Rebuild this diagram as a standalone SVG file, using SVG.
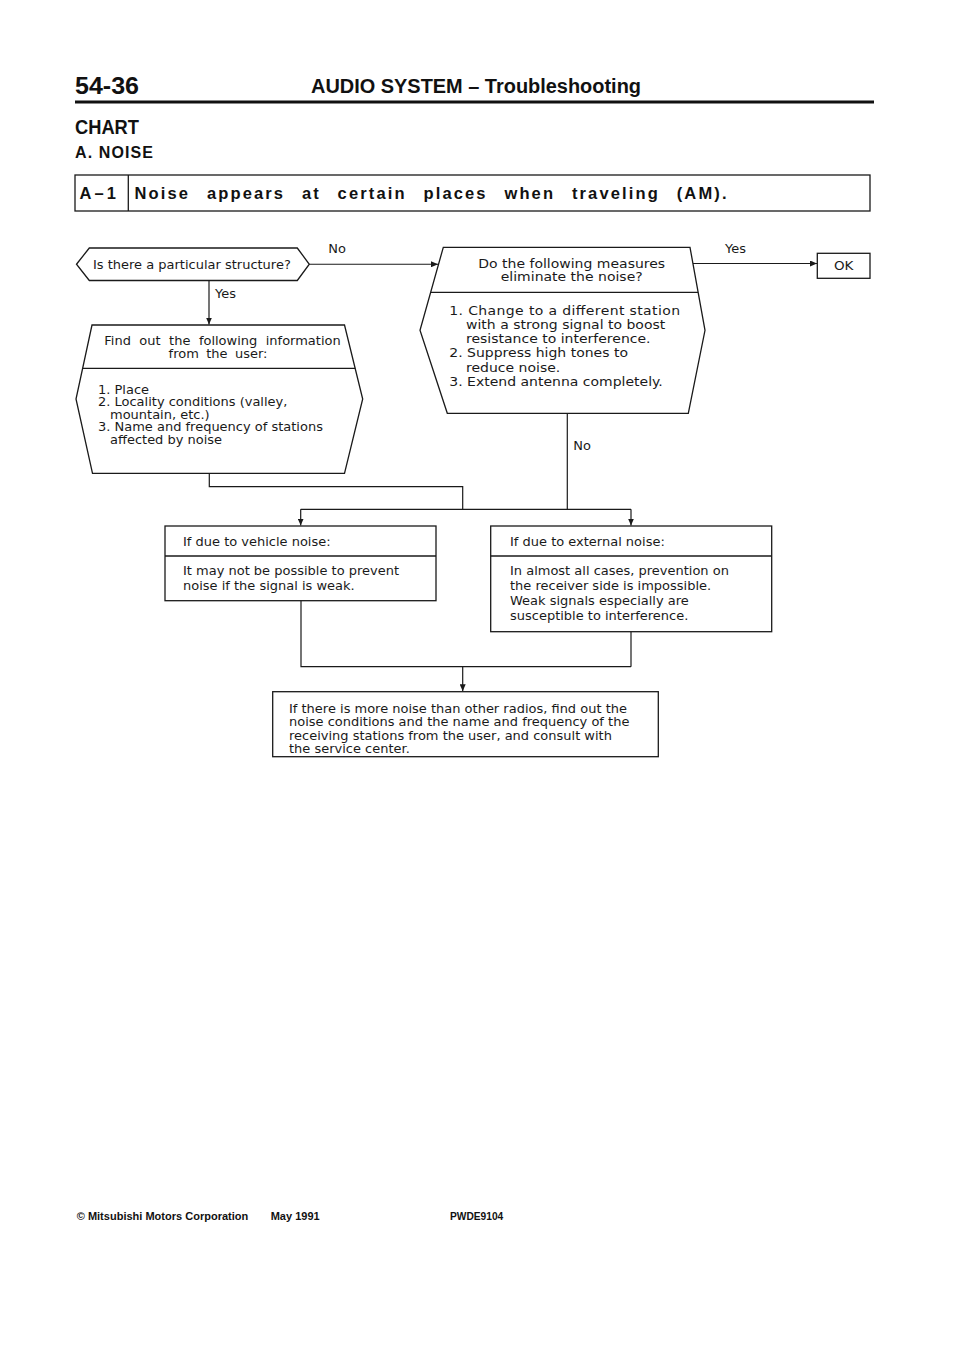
<svg xmlns="http://www.w3.org/2000/svg" width="960" height="1358" viewBox="0 0 960 1358">
<defs>
<marker id="ah" markerWidth="8" markerHeight="6" refX="7" refY="3" orient="auto" markerUnits="userSpaceOnUse"><path d="M0,0 L7,3 L0,6 z" fill="#1a1a1a"/></marker>
<style>
.hd{font-family:"Liberation Sans",Arial,sans-serif;font-weight:bold;fill:#111}
.t{font-family:"DejaVu Sans",sans-serif;font-size:12px;fill:#1a1a1a}
.m{font-family:"DejaVu Sans",sans-serif;font-size:12.5px;fill:#1a1a1a}
.box{fill:none;stroke:#1a1a1a;stroke-width:1.3}
.ln{fill:none;stroke:#1a1a1a;stroke-width:1.2}
.ft{font-family:"Liberation Sans",Arial,sans-serif;font-weight:bold;font-size:11px;fill:#111}
</style>
</defs>
<rect width="960" height="1358" fill="#fff"/>
<g id="header">
<text class="hd" x="75" y="94" font-size="24" textLength="64" lengthAdjust="spacingAndGlyphs">54-36</text>
<text class="hd" x="311" y="93" font-size="19.5" textLength="330" lengthAdjust="spacingAndGlyphs">AUDIO SYSTEM – Troubleshooting</text>
<line x1="75" y1="102" x2="874" y2="102" stroke="#111" stroke-width="3"/>
<text class="hd" x="75" y="133.5" font-size="19.5" textLength="64" lengthAdjust="spacingAndGlyphs">CHART</text>
<text class="hd" x="75" y="157.5" font-size="16" textLength="78">A. NOISE</text>
</g>
<g id="a1">
<rect class="box" x="75" y="175" width="795" height="36"/>
<line class="box" x1="128.3" y1="175" x2="128.3" y2="211"/>
<text class="hd" x="79.5" y="199" font-size="16.5" textLength="36.5">A–1</text>
<text class="hd" x="134.5" y="199" font-size="16.5" word-spacing="10" textLength="592">Noise appears at certain places when traveling (AM).</text>
</g>
<g id="connectors" class="ln">
<path d="M209,280.5 V324.5" marker-end="url(#ah)"/>
<path d="M309.3,264.25 H438" marker-end="url(#ah)"/>
<path d="M693,263.5 H817" marker-end="url(#ah)"/>
<path d="M209.3,473.3 V486.7 H462.7 V509.3"/>
<path d="M567.3,413.3 V509.3"/>
<path d="M300.7,509.3 H631"/>
<path d="M300.7,509.3 V525.5" marker-end="url(#ah)"/>
<path d="M631,509.3 V525.5" marker-end="url(#ah)"/>
<path d="M301,600.7 V666.7 H631"/>
<path d="M631,631.7 V666.7"/>
<path d="M462.7,666.7 V691.2" marker-end="url(#ah)"/>
</g>
<g id="labels">
<text class="t" transform="translate(328.3,252.5) scale(1.083,1)">No</text>
<text class="t" transform="translate(215,297.5) scale(1.083,1)">Yes</text>
<text class="t" transform="translate(725,253) scale(1.083,1)">Yes</text>
<text class="t" transform="translate(573.3,449.5) scale(1.083,1)">No</text>
</g>
<g id="q1">
<polygon class="box" points="76.5,264.25 89.3,248 297.3,248 309.3,264.25 297.3,280.5 89.3,280.5"/>
<text class="t" transform="translate(93,268.8) scale(1.083,1)">Is there a particular structure?</text>
</g>
<g id="findout">
<polygon class="box" points="92,325 344.5,325 362.7,399 344.5,473.3 92.5,473.3 76,399"/>
<line class="box" x1="82.6" y1="368.3" x2="355.2" y2="368.3"/>
<text class="t" transform="translate(104.3,344.5) scale(1.083,1)" word-spacing="4">Find out the following information</text>
<text class="t" transform="translate(218,358) scale(1.083,1)" text-anchor="middle" word-spacing="3">from the user:</text>
<text class="t" transform="translate(98,393.5) scale(1.083,1)">1. Place</text>
<text class="t" transform="translate(98,406) scale(1.083,1)">2. Locality conditions (valley,</text>
<text class="t" transform="translate(110,418.5) scale(1.083,1)">mountain, etc.)</text>
<text class="t" transform="translate(98,431) scale(1.083,1)">3. Name and frequency of stations</text>
<text class="t" transform="translate(110,443.5) scale(1.083,1)">affected by noise</text>
</g>
<g id="measures">
<polygon class="box" points="443.3,247.3 690,247.3 705,330.3 688.3,413.3 447.3,413.3 420,330.3"/>
<line class="box" x1="430.7" y1="292.3" x2="698.1" y2="292.3"/>
<text class="m" transform="translate(571.7,267.5) scale(1.12,1)" text-anchor="middle">Do the following measures</text>
<text class="m" transform="translate(571.7,280.5) scale(1.12,1)" text-anchor="middle">eliminate the noise?</text>
<text class="m" transform="translate(449.3,314.5) scale(1.12,1)" textLength="206">1. Change to a different station</text>
<text class="m" transform="translate(466,328.8) scale(1.12,1)">with a strong signal to boost</text>
<text class="m" transform="translate(466,343.1) scale(1.12,1)">resistance to interference.</text>
<text class="m" transform="translate(449.3,357.4) scale(1.12,1)">2. Suppress high tones to</text>
<text class="m" transform="translate(466,371.7) scale(1.12,1)">reduce noise.</text>
<text class="m" transform="translate(449.3,386) scale(1.12,1)">3. Extend antenna completely.</text>
</g>
<g id="ok">
<rect class="box" x="817.3" y="253.3" width="52.7" height="25"/>
<text class="m" transform="translate(843.7,270.3) scale(1.08,1)" text-anchor="middle">OK</text>
</g>
<g id="vehicle">
<rect class="box" x="165" y="526" width="271" height="74.7"/>
<line class="box" x1="165" y1="556" x2="436" y2="556"/>
<text class="t" transform="translate(183,546) scale(1.083,1)">If due to vehicle noise:</text>
<text class="t" transform="translate(183,574.5) scale(1.083,1)">It may not be possible to prevent</text>
<text class="t" transform="translate(183,589.5) scale(1.083,1)">noise if the signal is weak.</text>
</g>
<g id="external">
<rect class="box" x="490.7" y="526" width="281" height="105.7"/>
<line class="box" x1="490.7" y1="556" x2="771.7" y2="556"/>
<text class="t" transform="translate(510,546) scale(1.083,1)">If due to external noise:</text>
<text class="t" transform="translate(510,574.5) scale(1.083,1)">In almost all cases, prevention on</text>
<text class="t" transform="translate(510,589.5) scale(1.083,1)">the receiver side is impossible.</text>
<text class="t" transform="translate(510,605) scale(1.083,1)">Weak signals especially are</text>
<text class="t" transform="translate(510,620) scale(1.083,1)">susceptible to interference.</text>
</g>
<g id="final">
<rect class="box" x="272.7" y="691.7" width="385.6" height="65"/>
<text class="t" transform="translate(289,712.5) scale(1.083,1)">If there is more noise than other radios, find out the</text>
<text class="t" transform="translate(289,726) scale(1.083,1)">noise conditions and the name and frequency of the</text>
<text class="t" transform="translate(289,739.5) scale(1.083,1)">receiving stations from the user, and consult with</text>
<text class="t" transform="translate(289,753) scale(1.083,1)">the service center.</text>
</g>
<g id="footer">
<text class="ft" x="76.7" y="1219.5" textLength="171.6">© Mitsubishi Motors Corporation</text>
<text class="ft" x="270.7" y="1219.5">May 1991</text>
<text class="ft" x="450" y="1219.5" textLength="53.3" lengthAdjust="spacingAndGlyphs">PWDE9104</text>
</g>
</svg>
